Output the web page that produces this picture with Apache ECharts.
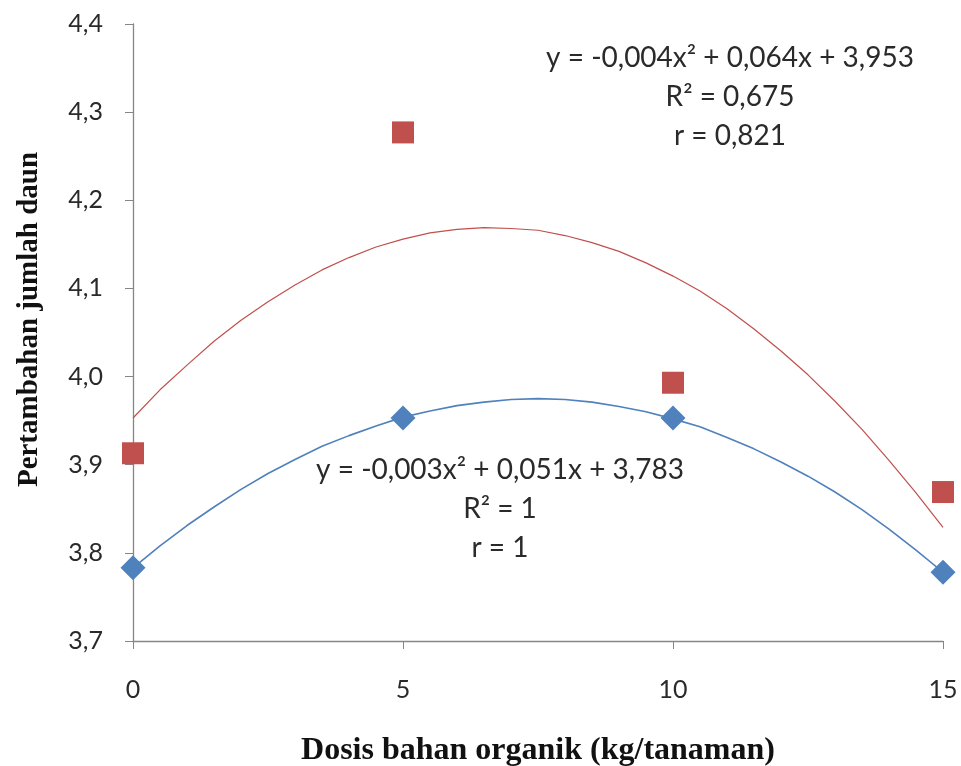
<!DOCTYPE html>
<html>
<head>
<meta charset="utf-8">
<script src="https://cdn.jsdelivr.net/npm/echarts@6/dist/echarts.min.js"></script>
<style>html,body{margin:0;padding:0;background:#fff}#c{width:961px;height:766px}</style>
</head>
<body>
<div id="c"></div>
<script>
// Observed data
const doses = [0, 5, 10, 15];
const redObserved = [3.913, 4.277, 3.993, 3.869];
const blueObserved = [3.783, 3.953, 3.953, 3.778];
// Trend curves
const trendX = [0, 0.5, 1, 1.5, 2, 2.5, 3, 3.5, 4, 4.5, 5, 5.5, 6, 6.5, 7, 7.5, 8, 8.5, 9, 9.5, 10, 10.5, 11, 11.5, 12, 12.5, 13, 13.5, 14, 14.5, 15];
const redTrend = [3.953, 3.985, 4.013, 4.040, 4.064, 4.085, 4.104, 4.121, 4.135, 4.147, 4.156, 4.163, 4.167, 4.169, 4.168, 4.166, 4.160, 4.152, 4.142, 4.129, 4.114, 4.097, 4.077, 4.054, 4.029, 4.002, 3.972, 3.940, 3.905, 3.868, 3.829];
const blueTrend = [3.783, 3.808, 3.831, 3.852, 3.872, 3.890, 3.906, 3.921, 3.933, 3.944, 3.954, 3.961, 3.967, 3.971, 3.974, 3.975, 3.974, 3.971, 3.966, 3.960, 3.952, 3.943, 3.931, 3.918, 3.903, 3.887, 3.869, 3.849, 3.827, 3.803, 3.778];
const xTicks = [0, 5, 10, 15];
const yTicks = [3.7, 3.8, 3.9, 4.0, 4.1, 4.2, 4.3, 4.4];
const redLabel = ['y = -0,004x\u00B2 + 0,064x + 3,953', 'R\u00B2 = 0,675', 'r = 0,821'];
const blueLabel = ['y = -0,003x\u00B2 + 0,051x + 3,783', 'R\u00B2 = 1', 'r = 1'];
const xTitle = 'Dosis bahan organik (kg/tanaman)';
const yTitle = 'Pertambahan jumlah daun';

const RED = '#C0504D', BLUE = '#4F81BD', AX = '#868686', TXT = '#2a2a2a';
const pair = (xs, ys) => xs.map((x, i) => [x, ys[i]]);
const chart = echarts.init(document.getElementById('c'));
const txt = (lines, cx, y0) => lines.map((t, i) => ({
  type: 'text', x: cx, y: y0 + i * 39, z: 10,
  style: { text: t, fill: TXT, font: '28px Lato', textAlign: 'center', textVerticalAlign: 'middle' }
}));
chart.setOption({
  animation: false,
  grid: { left: 133, right: 18, top: 24, bottom: 125, outerBoundsMode: 'none', containLabel: false },
  xAxis: {
    type: 'value', min: xTicks[0], max: xTicks[xTicks.length - 1], interval: 5,
    axisLine: { lineStyle: { color: AX, width: 1.3 } },
    axisTick: { show: true, length: 8, lineStyle: { color: AX } },
    splitLine: { show: false },
    axisLabel: { color: TXT, fontSize: 25, fontFamily: 'Lato', margin: 36 },
    name: xTitle, nameLocation: 'middle', nameGap: 94,
    nameTextStyle: { fontFamily: 'Liberation Serif', fontWeight: 'bold', fontSize: 32, color: '#111' }
  },
  yAxis: {
    type: 'value', min: yTicks[0], max: yTicks[yTicks.length - 1], interval: 0.1,
    axisLine: { show: true, lineStyle: { color: AX, width: 1.3 } },
    axisTick: { show: true, length: 8, lineStyle: { color: AX } },
    splitLine: { show: false },
    axisLabel: { color: TXT, fontSize: 25, fontFamily: 'Lato', margin: 30,
      formatter: v => v.toFixed(1).replace('.', ',') },
    name: yTitle, nameLocation: 'middle', nameGap: 89,
    nameTextStyle: { fontFamily: 'Liberation Serif', fontWeight: 'bold', fontSize: 29, color: '#111', padding: [0, 0, 0, 26] }
  },
  series: [
    { type: 'line', data: pair(trendX, redTrend), symbol: 'none',
      lineStyle: { color: RED, width: 1.2 }, z: 2 },
    { type: 'line', data: pair(trendX, blueTrend), symbol: 'none',
      lineStyle: { color: BLUE, width: 1.6 }, z: 2 },
    { type: 'scatter', data: pair(doses, redObserved), symbol: 'rect', symbolSize: 22,
      itemStyle: { color: RED, opacity: 1 }, z: 3 },
    { type: 'scatter', data: pair(doses, blueObserved), symbol: 'diamond', symbolSize: 25,
      itemStyle: { color: BLUE, opacity: 1 }, z: 3 }
  ],
  graphic: [...txt(redLabel, 730, 58), ...txt(blueLabel, 500, 470)]
});
</script>
</body>
</html>
